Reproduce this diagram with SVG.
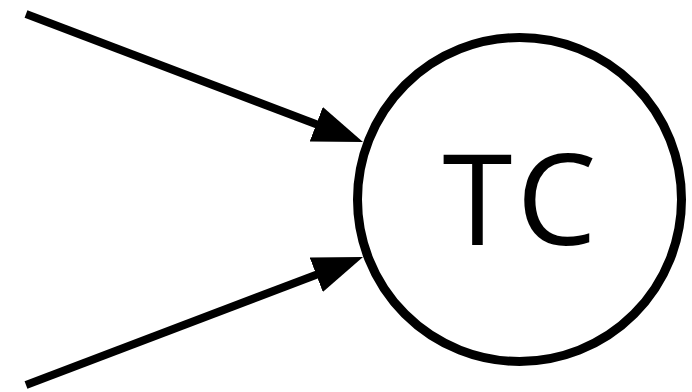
<svg xmlns="http://www.w3.org/2000/svg" width="692" height="392" viewBox="0 0 692 392">
  <style>
    .edge { stroke: #000; stroke-width: 8; fill: none; }
    .node { fill: #fff; stroke: #000; stroke-width: 9; }
    .label { font-family: "Open Sans", "DejaVu Sans", sans-serif; font-size: 127px; fill: #000; text-anchor: middle; letter-spacing: 4px; }
  </style>
  <defs>
    <marker id="arrow" markerUnits="userSpaceOnUse" markerWidth="52" markerHeight="40" refX="10" refY="18.5" orient="auto" viewBox="0 0 52 40">
      <path d="M0,0 L50,18.5 L0,37 z" fill="#000"/>
    </marker>
  </defs>
  <g id="connectors">
    <line class="edge" x1="26" y1="14" x2="325.6" y2="127.8" marker-end="url(#arrow)"/>
    <line class="edge" x1="26" y1="385" x2="325.6" y2="271.2" marker-end="url(#arrow)"/>
  </g>
  <g id="node-TC">
    <circle class="node" cx="519.5" cy="199.5" r="162"/>
    <text class="label" x="521.5" y="245">TC</text>
  </g>
</svg>
